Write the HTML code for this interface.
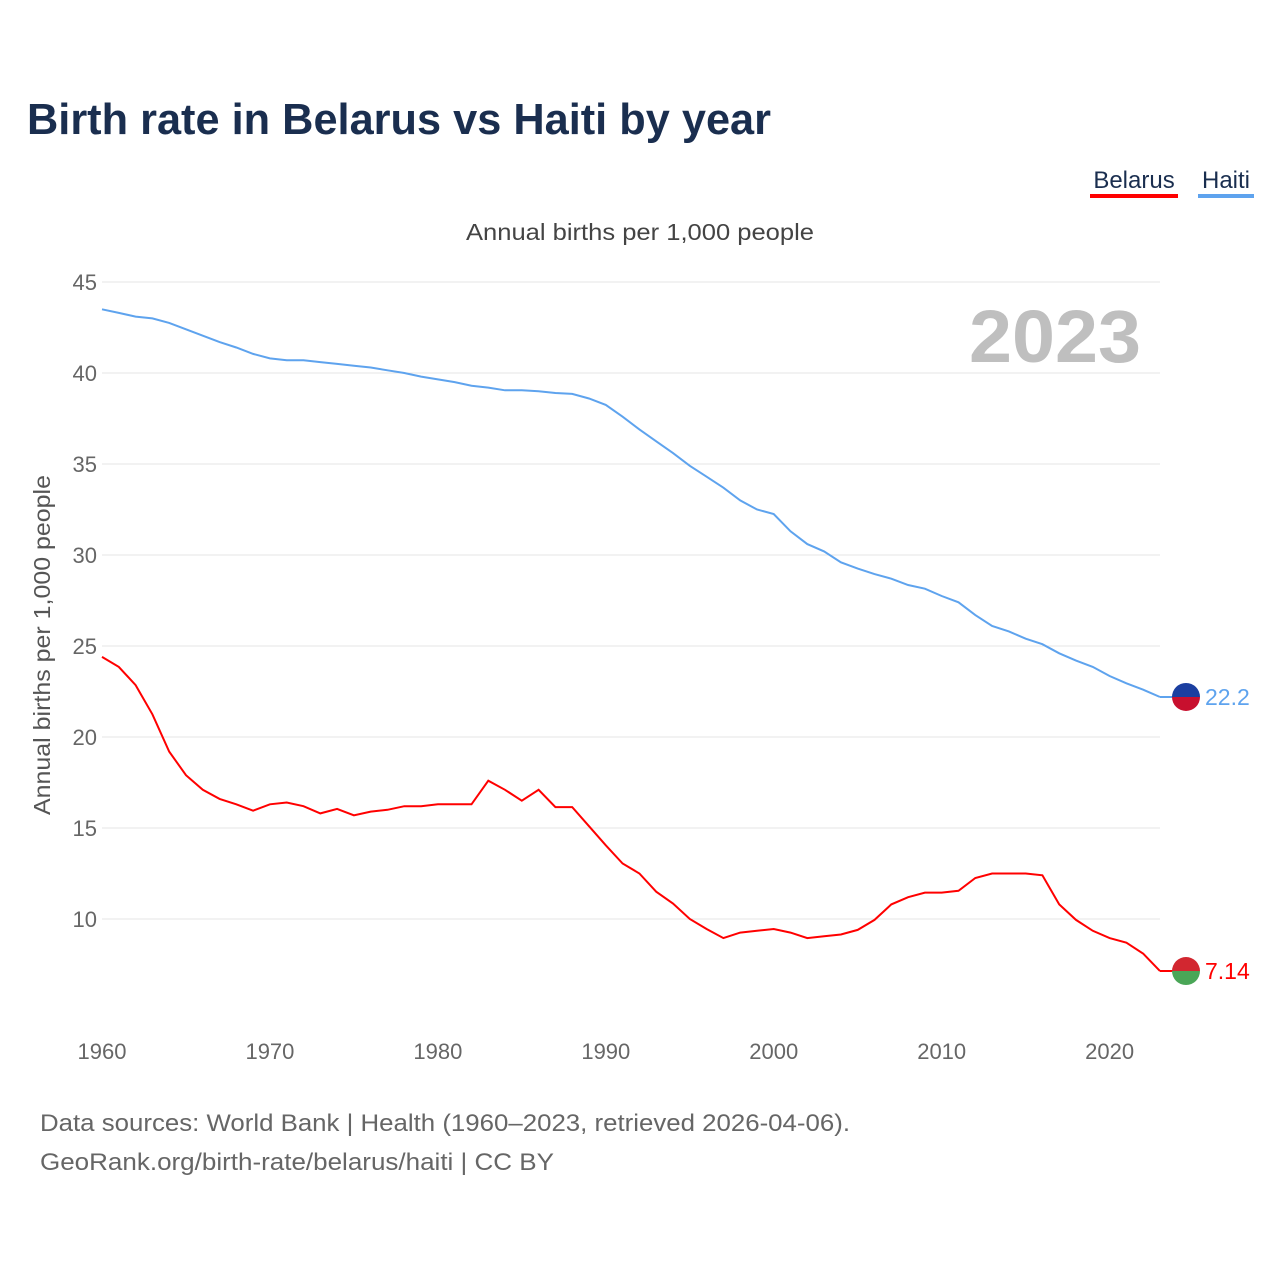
<!DOCTYPE html>
<html><head><meta charset="utf-8"><style>
body{margin:0;background:#fff;font-family:"Liberation Sans",sans-serif;}
#wrap{position:relative;width:1280px;height:1280px;}
</style></head><body>
<div id="wrap">
<svg id="chart" width="1280" height="1280" xmlns="http://www.w3.org/2000/svg">
<text x="27" y="134" font-size="44" font-weight="bold" fill="#1a2e4f" textLength="744" lengthAdjust="spacingAndGlyphs">Birth rate in Belarus vs Haiti by year</text>
<g><text x="1134" y="188" font-size="24" fill="#1a2e4f" text-anchor="middle">Belarus</text><rect x="1090" y="194" width="88" height="4" fill="#ff0000"/></g>
<g><text x="1226" y="188" font-size="24" fill="#1a2e4f" text-anchor="middle">Haiti</text><rect x="1198" y="194" width="56" height="4" fill="#5ea3ee"/></g>
<text x="466" y="240" font-size="23" fill="#444" textLength="348" lengthAdjust="spacingAndGlyphs">Annual births per 1,000 people</text>
<text x="1055" y="362" font-size="74" font-weight="bold" fill="#bfbfbf" text-anchor="middle" textLength="172" lengthAdjust="spacingAndGlyphs">2023</text>
<text transform="translate(50,815) rotate(-90)" font-size="23" fill="#555" textLength="340" lengthAdjust="spacingAndGlyphs">Annual births per 1,000 people</text>
<g id="grid"></g><g id="lines"></g><g id="ends"></g>
<text x="40" y="1131" font-size="24" fill="#666" textLength="810" lengthAdjust="spacingAndGlyphs">Data sources: World Bank | Health (1960–2023, retrieved 2026-04-06).</text>
<text x="40" y="1170" font-size="24" fill="#666" textLength="514" lengthAdjust="spacingAndGlyphs">GeoRank.org/birth-rate/belarus/haiti | CC BY</text>
</svg></div>
<script>
const years=[];for(let y=1960;y<=2023;y++)years.push(y);
const haiti=[43.5,43.3,43.1,43.0,42.75,42.4,42.05,41.7,41.4,41.05,40.8,40.7,40.7,40.6,40.5,40.4,40.3,40.15,40.0,39.8,39.65,39.5,39.3,39.2,39.05,39.05,39.0,38.9,38.85,38.6,38.25,37.6,36.9,36.25,35.6,34.9,34.3,33.7,33.0,32.5,32.25,31.3,30.6,30.2,29.6,29.25,28.95,28.7,28.35,28.15,27.75,27.4,26.7,26.1,25.8,25.4,25.1,24.6,24.2,23.85,23.35,22.95,22.6,22.2];
const belarus=[24.4,23.85,22.85,21.25,19.2,17.9,17.1,16.6,16.3,15.95,16.3,16.4,16.2,15.8,16.05,15.7,15.9,16.0,16.2,16.2,16.3,16.3,16.3,17.6,17.1,16.5,17.1,16.15,16.15,15.1,14.05,13.05,12.5,11.5,10.85,10.0,9.45,8.95,9.25,9.35,9.45,9.25,8.95,9.05,9.15,9.4,9.95,10.8,11.2,11.45,11.45,11.55,12.25,12.5,12.5,12.5,12.4,10.8,9.95,9.35,8.95,8.7,8.1,7.14];
const yTicks=[10,15,20,25,30,35,40,45];
const xTicks=[1960,1970,1980,1990,2000,2010,2020];
const NS="http://www.w3.org/2000/svg";
const X=y=>102+(y-1960)*(1160-102)/63;
const Y=v=>282+(45-v)*(919-282)/35;
function mk(t,a,p){const e=document.createElementNS(NS,t);for(const k in a)e.setAttribute(k,a[k]);p.appendChild(e);return e;}
const grid=document.getElementById('grid');
yTicks.forEach(v=>{
 const l=mk('line',{x1:102,x2:1160,y1:Y(v),y2:Y(v),stroke:'#e6e6e6','stroke-width':1},grid);
 
 
 const t=mk('text',{x:97,y:Y(v)+8,'font-size':22,fill:'#666','text-anchor':'end'},grid);t.textContent=v;
 
 
});
xTicks.forEach(v=>{
 const t=mk('text',{x:X(v),y:1059,'font-size':22,fill:'#666','text-anchor':'middle'},grid);t.textContent=v;
 
 
});
const lines=document.getElementById('lines');
function line(data,color,name){
 const p=mk('path',{d:data.map((v,i)=>(i?'L':'M')+X(years[i]).toFixed(1)+','+Y(v).toFixed(1)).join(''),fill:'none',stroke:color,'stroke-width':2},lines);
 
 
}
line(haiti,'#5ea3ee','haiti-line');line(belarus,'#ff0000','belarus-line');
const ends=document.getElementById('ends');
function end(data,color,top,bot,name){
 const v=data[data.length-1],yy=Y(v),x=1186;
 mk('line',{x1:X(2023),x2:x,y1:yy,y2:yy,stroke:color,'stroke-width':2},ends);
 const g=mk('g',{},ends);
 
 
 mk('path',{d:`M${x-14},${yy}A14,14 0 0 1 ${x+14},${yy}Z`,fill:top},g);
 mk('path',{d:`M${x-14},${yy}A14,14 0 0 0 ${x+14},${yy}Z`,fill:bot},g);
 const t=mk('text',{x:1205,y:yy+8,'font-size':23,fill:color},ends);t.textContent=v;
 
 
}
end(haiti,'#5ea3ee','#1b3fa0','#c8102e','haiti');
end(belarus,'#ff0000','#d22730','#4aa657','belarus');
</script>
</body></html>
